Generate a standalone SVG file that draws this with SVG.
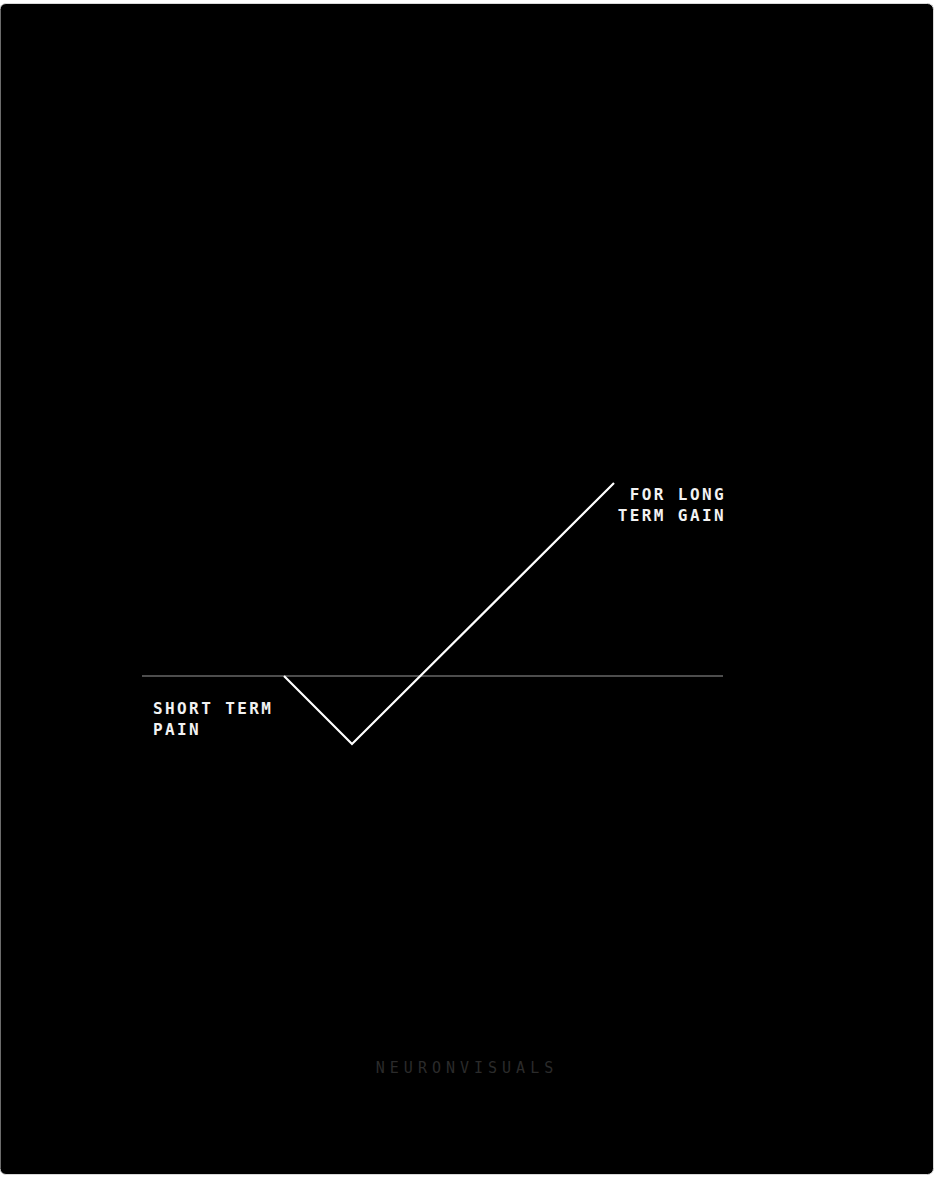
<svg xmlns="http://www.w3.org/2000/svg" width="936" height="1178" viewBox="0 0 936 1178">
<style>
.lbl{font-family:"DejaVu Sans Mono","Liberation Mono",monospace;font-weight:bold;font-size:16px;fill:#f2f2f2;letter-spacing:2.4px}
.brand{font-family:"DejaVu Sans Mono","Liberation Mono",monospace;font-size:15px;fill:#2b2b2b;letter-spacing:5px}
</style>
<rect x="0" y="0" width="936" height="1178" fill="#ffffff"/>
<rect x="0" y="3.5" width="933.5" height="1171" rx="6" fill="#000000" stroke="#d8d8d8" stroke-width="1"/>
<g id="connectors">
<line x1="142" y1="676" x2="723" y2="676" stroke="#4d4d4d" stroke-width="2.2"/>
<polyline points="284,676 352,744 614,483" fill="none" stroke="#ffffff" stroke-width="2.2"/>
</g>
<g id="gain-label">
<text class="lbl" x="726" y="500" text-anchor="end">FOR LONG</text>
<text class="lbl" x="726" y="521" text-anchor="end">TERM GAIN</text>
</g>
<g id="pain-label">
<text class="lbl" x="153" y="714">SHORT TERM</text>
<text class="lbl" x="153" y="735">PAIN</text>
</g>
<g id="brand">
<text class="brand" x="467" y="1073" text-anchor="middle">NEURONVISUALS</text>
</g>
</svg>
